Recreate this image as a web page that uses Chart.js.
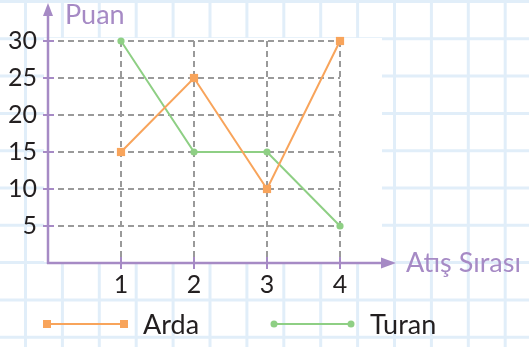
<!DOCTYPE html>
<html>
<head>
<meta charset="utf-8">
<script src="https://cdn.jsdelivr.net/npm/chart.js@4/dist/chart.umd.min.js"></script>
<style>
  html, body { margin: 0; padding: 0; background: #fff; }
  #wrap { width: 529px; height: 347px; }
</style>
</head>
<body>
<div id="wrap"><canvas id="chart" width="529" height="347"></canvas></div>
<script>
// Chart data
const shots = [1, 2, 3, 4];
const ardaScores = [15, 25, 10, 30];
const turanScores = [30, 15, 15, 5];
const yTicks = [5, 10, 15, 20, 25, 30];
const xTitle = 'Atış Sırası';
const yTitle = 'Puan';

const PURPLE = '#a68ac5';
const ORANGE = '#f8a45b';
const GREEN = '#8ecf84';
const TEXT = '#231f20';
const FONT = 'Lato, "Open Sans", sans-serif';

// Graph-paper background with a white patch behind the plot
const paperPlugin = {
    id: 'paper',
    beforeDraw(chart) {
        const ctx = chart.ctx;
        const w = chart.width, h = chart.height;
        ctx.save();
        ctx.fillStyle = '#fff';
        ctx.fillRect(0, 0, w, h);
        ctx.strokeStyle = '#e1eef9';
        ctx.lineWidth = 3;
        for (let x = 25.5; x < w; x += 36.9) {
            ctx.beginPath(); ctx.moveTo(x, 0); ctx.lineTo(x, h); ctx.stroke();
        }
        for (let y = 1.5; y < h; y += 37.3) {
            ctx.beginPath(); ctx.moveTo(0, y); ctx.lineTo(w, y); ctx.stroke();
        }
        ctx.fillStyle = '#fff';
        ctx.fillRect(44, 38, 338, 224);
        ctx.restore();
    }
};

// Purple axes with arrows, tick marks, titles and the legend
const axesPlugin = {
    id: 'axes',
    afterDatasetsDraw(chart) {
        const ctx = chart.ctx;
        const xs = chart.scales.x, ys = chart.scales.y;
        const x0 = xs.getPixelForValue(0);
        const y0 = ys.getPixelForValue(0);
        ctx.save();
        ctx.strokeStyle = PURPLE;
        ctx.fillStyle = PURPLE;
        ctx.lineWidth = 2.5;
        // y axis
        ctx.beginPath(); ctx.moveTo(x0, y0 + 1); ctx.lineTo(x0, 12); ctx.stroke();
        ctx.beginPath(); ctx.moveTo(x0, 3); ctx.lineTo(x0 - 5, 16); ctx.lineTo(x0 + 5, 16); ctx.closePath(); ctx.fill();
        // x axis
        ctx.beginPath(); ctx.moveTo(x0 - 1, y0); ctx.lineTo(386, y0); ctx.stroke();
        ctx.beginPath(); ctx.moveTo(396, y0); ctx.lineTo(381, y0 - 5.5); ctx.lineTo(381, y0 + 5.5); ctx.closePath(); ctx.fill();
        // tick marks
        ctx.lineWidth = 2;
        yTicks.forEach(v => {
            const y = ys.getPixelForValue(v);
            ctx.beginPath(); ctx.moveTo(x0 - 5, y); ctx.lineTo(x0 + 6, y); ctx.stroke();
        });
        shots.forEach(v => {
            const x = xs.getPixelForValue(v);
            ctx.beginPath(); ctx.moveTo(x, y0 - 6); ctx.lineTo(x, y0 + 6); ctx.stroke();
        });
        // titles
        ctx.font = '27px ' + FONT;
        ctx.textBaseline = 'alphabetic';
        ctx.textAlign = 'left';
        ctx.fillText(yTitle, 65, 24);
        ctx.fillText(xTitle, 406, y0 + 9);

        // legend
        const items = chart.data.datasets;
        const legendX = [47, 274];
        const legendY = 324;
        items.forEach((ds, i) => {
            const lx = legendX[i];
            const len = 77;
            ctx.strokeStyle = ds.borderColor;
            ctx.fillStyle = ds.borderColor;
            ctx.lineWidth = 2;
            ctx.beginPath(); ctx.moveTo(lx, legendY); ctx.lineTo(lx + len, legendY); ctx.stroke();
            [lx, lx + len].forEach(px => {
                if (ds.pointStyle === 'rect') {
                    ctx.fillRect(px - 4, legendY - 4, 8, 8);
                } else {
                    ctx.beginPath(); ctx.arc(px, legendY, 3.5, 0, Math.PI * 2); ctx.fill();
                }
            });
            ctx.fillStyle = TEXT;
            ctx.font = '27px ' + FONT;
            ctx.textBaseline = 'middle';
            ctx.fillText(ds.label, lx + len + 19, legendY + 1);
        });
        ctx.restore();
    }
};

const ctx = document.getElementById('chart').getContext('2d');
new Chart(ctx, {
    type: 'line',
    data: {
        datasets: [
            {
                label: 'Arda',
                data: shots.map((s, i) => ({ x: s, y: ardaScores[i] })),
                borderColor: ORANGE,
                backgroundColor: ORANGE,
                borderWidth: 2,
                pointStyle: 'rect',
                pointRadius: 5.8,
                pointBorderWidth: 0,
                tension: 0
            },
            {
                label: 'Turan',
                data: shots.map((s, i) => ({ x: s, y: turanScores[i] })),
                borderColor: GREEN,
                backgroundColor: GREEN,
                borderWidth: 2,
                pointStyle: 'circle',
                pointRadius: 3.6,
                pointBorderWidth: 0,
                tension: 0
            }
        ]
    },
    options: {
        responsive: false,
        animation: false,
        clip: false,
        layout: { padding: { top: 41, right: 189, bottom: 0, left: 0 } },
        plugins: {
            legend: { display: false },
            tooltip: { enabled: false }
        },
        scales: {
            x: {
                type: 'linear',
                min: 0,
                max: 4,
                afterFit: s => { s.height = 84; },
                border: { display: false, dash: [6, 4] },
                grid: {
                    drawTicks: false,
                    lineWidth: 2,
                    color: c => c.tick.value === 0 ? 'rgba(0,0,0,0)' : '#9a9a9a'
                },
                ticks: {
                    stepSize: 1,
                    padding: 7,
                    color: TEXT,
                    font: { family: FONT, size: 25 },
                    callback: v => (shots.includes(v) ? String(v) : '')
                }
            },
            y: {
                type: 'linear',
                min: 0,
                max: 30,
                afterFit: s => { s.width = 48; },
                border: { display: false, dash: [6, 4] },
                grid: {
                    drawTicks: false,
                    lineWidth: 2,
                    color: c => c.tick.value === 0 ? 'rgba(0,0,0,0)' : '#9a9a9a'
                },
                ticks: {
                    stepSize: 5,
                    padding: 11,
                    color: TEXT,
                    font: { family: FONT, size: 25 },
                    callback: v => (yTicks.includes(v) ? String(v) : '')
                }
            }
        }
    },
    plugins: [paperPlugin, axesPlugin]
});
</script>
</body>
</html>
